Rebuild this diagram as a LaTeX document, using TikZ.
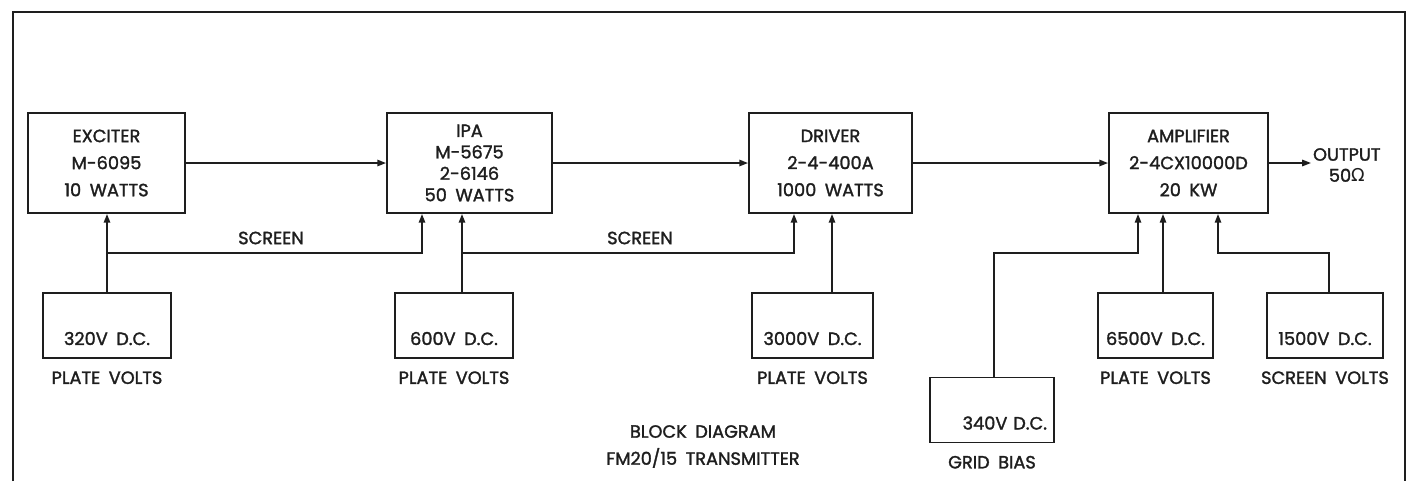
\documentclass[tikz,border=0pt]{standalone}
\usepackage{fontspec}
\setmainfont{Poppins}[WordSpace=1.8, FakeBold=1.6]
\newfontfamily\ohmfont{DejaVu Sans}
\usetikzlibrary{arrows.meta,positioning,calc}
\definecolor{inkdark}{HTML}{1E1E1E}

\begin{document}
\begin{tikzpicture}[x=0.02cm, y=-0.02cm,
  stage/.style={draw=inkdark, line width=1.05pt, minimum height=2cm, align=center, text=inkdark, font=\fontsize{10.1}{15.4}\selectfont},
  supply/.style={draw=inkdark, line width=1.05pt, minimum height=1.3cm, inner ysep=0pt, text height=1.04cm, text depth=0.26cm, text=inkdark, font=\fontsize{10.1}{12}\selectfont},
  caption/.style={text=inkdark, inner sep=1pt, font=\fontsize{10.1}{12}\selectfont},
  sig/.style={draw=inkdark, line width=1pt, -{Triangle[length=5pt,width=3.6pt]}},
]
% 1 unit = 1 px of the 1411x481 sheet, y grows downwards
\useasboundingbox (0,0) rectangle (1411,481);
\draw[inkdark, line width=1.2pt] (13,481) -- (13,12) -- (1405,12) -- (1405,481);

% RF chain
\node[stage, minimum width=3.14cm] (exciter) at (106.5,163) {EXCITER\\M-6095\\10 WATTS};
\node[stage, minimum width=3.3cm, font=\fontsize{10.1}{12.2}\selectfont] (ipa) at (469.5,163) {IPA\\M-5675\\2-6146\\50 WATTS};
\node[stage, minimum width=3.26cm] (driver) at (830.5,163) {DRIVER\\2-4-400A\\1000 WATTS};
\node[stage, minimum width=3.18cm] (amp) at (1188.5,163) {AMPLIFIER\\2-4CX10000D\\20 KW};
\node[caption, align=center, anchor=west] (output) at (1311,165) {OUTPUT\\50{\ohmfont Ω}};

\draw[sig] (exciter.east) -- (ipa.west);
\draw[sig] (ipa.east) -- (driver.west);
\draw[sig] (driver.east) -- (amp.west);
\draw[sig] (amp.east) -- (amp.east -| output.west);

% power supplies
\foreach \nm/\cx/\bw/\capt in {
  320/107/2.56/PLATE VOLTS,
  600/454/2.36/PLATE VOLTS,
  3000/812.5/2.42/PLATE VOLTS,
  6500/1155.5/2.3/PLATE VOLTS,
  1500/1325/2.32/SCREEN VOLTS
} {
  \node[supply, minimum width=\bw cm] (ps\nm) at (\cx,325.5) {\nm V D.C.};
  \node[caption, anchor=base] (cap\nm) at ($(ps\nm.south)+(0,25)$) {\capt};
}
\node[supply, minimum width=2.48cm, text width=2.2cm, align=right] (ps340) at (992,410) {340V D.C.};
\node[caption, anchor=base] (cap340) at ($(ps340.south)+(0,25)$) {GRID BIAS};

% feeds
\coordinate (bus) at (0,253);
\coordinate (p600) at ($(ps600.north)+(8,0)$);
\coordinate (p3000) at ($(ps3000.north)+(19.5,0)$);
\coordinate (p340) at ($(ps340.north)+(2,0)$);
\coordinate (p6500) at ($(ps6500.north)+(7.5,0)$);
\coordinate (p1500) at ($(ps1500.north)+(4,0)$);

\draw[sig] (ps320.north) -- (ps320.north |- exciter.south);
\draw[sig] (ps320.north |- bus) -| ($(ipa.south)+(-47.5,0)$);
\draw[sig] (p600) -- (p600 |- ipa.south);
\draw[sig] (p600 |- bus) -| ($(driver.south)+(-36.5,0)$);
\draw[sig] (p3000) -- (p3000 |- driver.south);
\draw[sig] (p340) -- (p340 |- bus) -| ($(amp.south)+(-50.5,0)$);
\draw[sig] (p6500) -- (p6500 |- amp.south);
\draw[sig] (p1500) -- (p1500 |- bus) -| ($(amp.south)+(29.5,0)$);

\node[caption] (scr1) at (271,238) {SCREEN};
\node[caption] (scr2) at (640,238) {SCREEN};
\node[caption, align=center, font=\fontsize{10.1}{15.4}\selectfont] (title) at (703,446.5) {BLOCK DIAGRAM\\FM20/15 TRANSMITTER};
\end{tikzpicture}
\end{document}
